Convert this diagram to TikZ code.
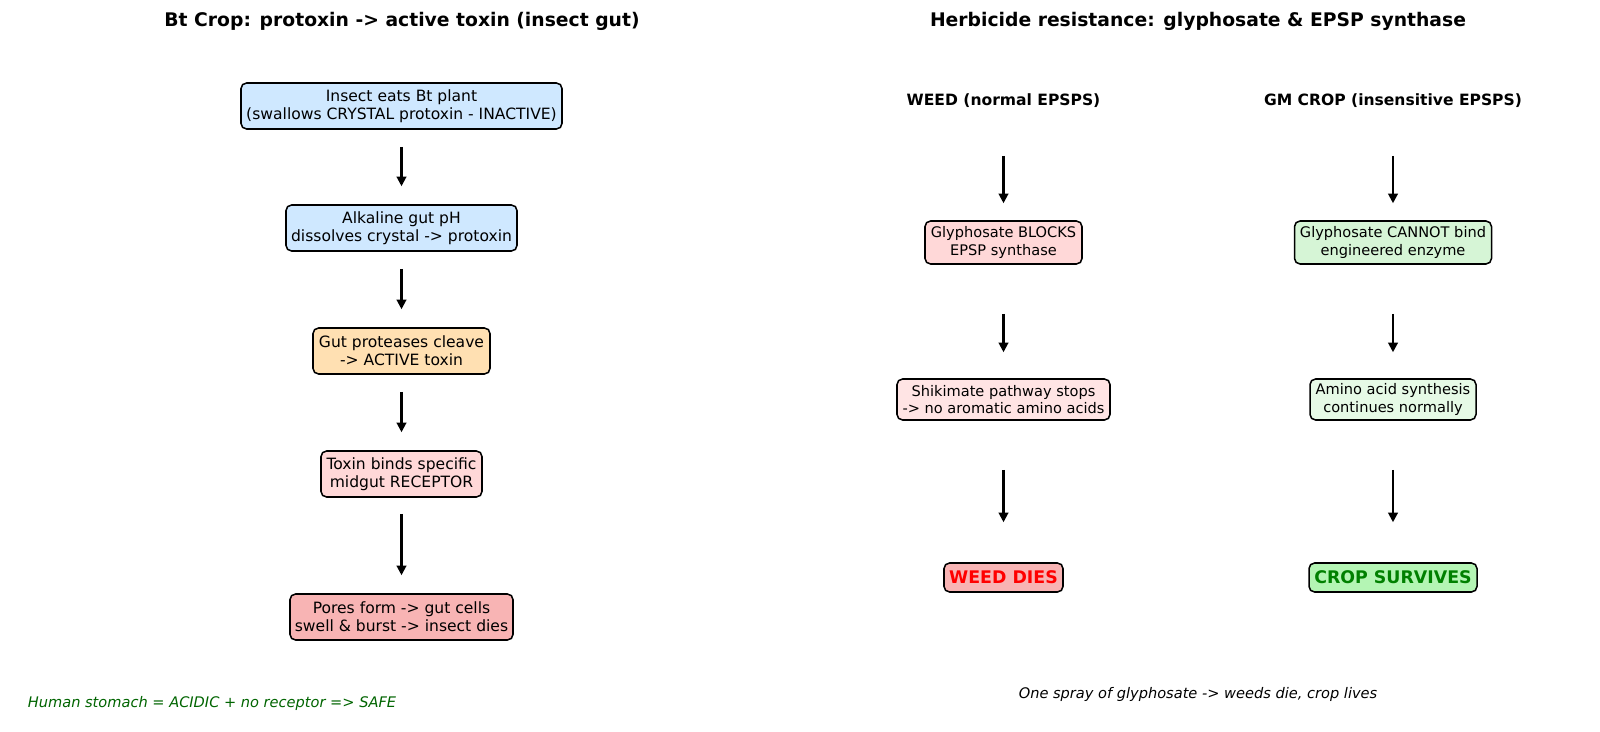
\documentclass[tikz,border=0pt]{standalone}
\usepackage{fontspec}
\setmainfont{DejaVu Sans}
\usetikzlibrary{arrows.meta}
\definecolor{bluefill}{HTML}{CFE8FF}
\definecolor{orangefill}{HTML}{FFE0B2}
\definecolor{pinkfill}{HTML}{FFD8D8}
\definecolor{redfill}{HTML}{F8B4B4}
\definecolor{lightpink}{HTML}{FFE4E4}
\definecolor{greenfill}{HTML}{D6F5D6}
\definecolor{lightgreen}{HTML}{E6FAE6}
\definecolor{brightgreen}{HTML}{B4F5B4}
\definecolor{darkgreentext}{HTML}{006400}
\definecolor{greentext}{HTML}{008000}
\definecolor{redtext}{HTML}{FF0000}
\def\u{0.72pt}
\begin{document}
\begin{tikzpicture}[x=0.72pt,y=-0.72pt,
  box/.style={draw=black, line width=1.1pt, rounded corners=4pt, align=center, inner sep=0pt, font=\fontsize{11.2}{13.2}\selectfont},
  rbox/.style={box, font=\fontsize{10.5}{12.3}\selectfont},
  endbox/.style={box, font=\bfseries\fontsize{12.5}{14}\selectfont},
  title/.style={font=\bfseries\fontsize{13.5}{16}\selectfont},
  header/.style={font=\bfseries\fontsize{11.2}{13}\selectfont},
  note/.style={font=\itshape\fontsize{10.5}{12}\selectfont},
  arr/.style={-{Triangle[length=7pt,width=7pt]}, line width=1.5pt}
]
\useasboundingbox (0,0) rectangle (1600,732);

% Left panel
\node[title] (t1) at (402,21) {Bt Crop: protoxin -> active toxin (insect gut)};
\node[box, fill=bluefill, minimum width=321*\u, minimum height=46*\u] (b1) at (401.5,106) {Insect eats Bt plant\\(swallows CRYSTAL protoxin - INACTIVE)};
\node[box, fill=bluefill, minimum width=231*\u, minimum height=46*\u] (b2) at (401.5,228) {Alkaline gut pH\\dissolves crystal -> protoxin};
\node[box, fill=orangefill, minimum width=177*\u, minimum height=46*\u] (b3) at (401.5,351) {Gut proteases cleave\\-> ACTIVE toxin};
\node[box, fill=pinkfill, minimum width=161*\u, minimum height=46*\u] (b4) at (401.5,474) {Toxin binds specific\\midgut RECEPTOR};
\node[box, fill=redfill, minimum width=223*\u, minimum height=46*\u] (b5) at (401.5,617) {Pores form -> gut cells\\swell \& burst -> insect dies};

\draw[arr, shorten <=17*\u, shorten >=18*\u] (b1) -- (b2);
\draw[arr, shorten <=17*\u, shorten >=18*\u] (b2) -- (b3);
\draw[arr, shorten <=17*\u, shorten >=18*\u] (b3) -- (b4);
\draw[arr, shorten <=16*\u, shorten >=18*\u] (b4) -- (b5);

\node[note, text=darkgreentext, anchor=west] (n1) at (23,703) {Human stomach = ACIDIC + no receptor => SAFE};

% Right panel
\node[title] (t2) at (1198,21) {Herbicide resistance: glyphosate \& EPSP synthase};
\node[header] (h1) at (1003.5,101) {WEED (normal EPSPS)};
\node[header] (h2) at (1393,101) {GM CROP (insensitive EPSPS)};

\node[rbox, fill=pinkfill, minimum width=157*\u, minimum height=43*\u] (w1) at (1003.5,242.5) {Glyphosate BLOCKS\\EPSP synthase};
\node[rbox, fill=lightpink, minimum width=213*\u, minimum height=41*\u] (w2) at (1003.5,399.5) {Shikimate pathway stops\\-> no aromatic amino acids};
\node[endbox, fill=redfill, text=redtext, minimum width=119*\u, minimum height=29*\u] (w3) at (1003.5,577.5) {WEED DIES};

\node[rbox, fill=greenfill, minimum width=197*\u, minimum height=43*\u] (c1) at (1393,242.5) {Glyphosate CANNOT bind\\engineered enzyme};
\node[rbox, fill=lightgreen, minimum width=166*\u, minimum height=41*\u] (c2) at (1393,399.5) {Amino acid synthesis\\continues normally};
\node[endbox, fill=brightgreen, text=greentext, minimum width=168*\u, minimum height=29*\u] (c3) at (1393,577.5) {CROP SURVIVES};

\draw[arr, shorten <=55*\u, shorten >=17*\u] (h1.center) -- (w1.north);
\draw[arr, shorten <=49*\u, shorten >=26*\u] (w1.south) -- (w2.north);
\draw[arr, shorten <=49*\u, shorten >=40*\u] (w2.south) -- (w3.north);
\draw[arr, shorten <=55*\u, shorten >=17*\u] (h2.center) -- (c1.north);
\draw[arr, shorten <=49*\u, shorten >=26*\u] (c1.south) -- (c2.north);
\draw[arr, shorten <=49*\u, shorten >=40*\u] (c2.south) -- (c3.north);

\node[note] (n2) at (1198,694) {One spray of glyphosate -> weeds die, crop lives};
\end{tikzpicture}
\end{document}
